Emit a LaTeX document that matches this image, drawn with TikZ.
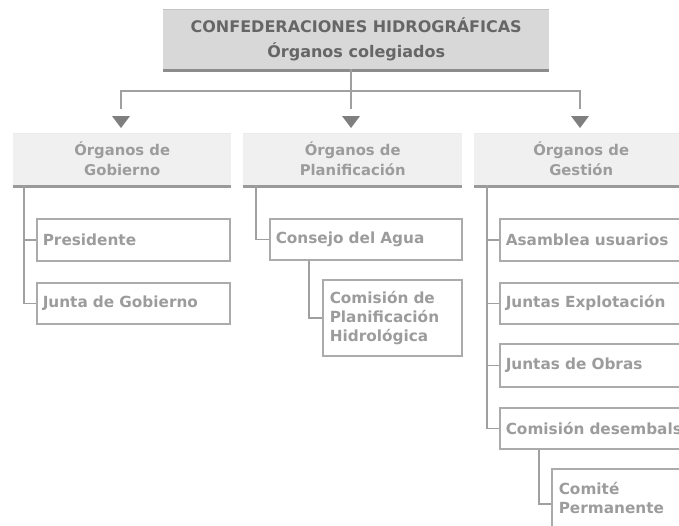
\documentclass[tikz,border=0pt]{standalone}
\usepackage{fontspec}
\setmainfont{DejaVu Sans}
\definecolor{topfill}{HTML}{D8D8D8}
\definecolor{topline}{HTML}{C4C4C4}
\definecolor{topbot}{HTML}{8C8C8C}
\definecolor{toptext}{HTML}{666666}
\definecolor{hdfill}{HTML}{F0F0F0}
\definecolor{hdbot}{HTML}{9A9A9A}
\definecolor{hdtext}{HTML}{9C9C9C}
\definecolor{boxline}{HTML}{ABABAB}
\definecolor{conncol}{HTML}{A0A0A0}
\definecolor{arrcol}{HTML}{7F7F7F}
\begin{document}
\begin{tikzpicture}[x=1pt,y=-1pt,
  topbox/.style={fill=topfill, minimum width=386pt, minimum height=60pt, inner sep=0pt,
     anchor=north west, font=\bfseries\fontsize{16}{25}\selectfont, text=toptext, align=center},
  hdbox/.style={fill=hdfill, minimum width=218pt, minimum height=52pt, inner sep=0pt,
     anchor=north west, font=\bfseries\fontsize{14.8}{20}\selectfont, text=hdtext, align=center},
  subbox/.style={draw=boxline, line width=1.5pt, fill=white, inner xsep=5pt, inner ysep=0pt,
     anchor=north west, font=\bfseries\fontsize{15.3}{19}\selectfont, text=hdtext, align=left},
  conn/.style={draw=conncol, line width=1.5pt},
]
\useasboundingbox (0,0) rectangle (679,525);
\clip (0,0) rectangle (679,525);

% top box
\node[topbox] (top) at (163,9) {CONFEDERACIONES HIDROGRÁFICAS\\Órganos colegiados};
\draw[topline, line width=1pt] (top.north west) -- (top.north east);
\draw[topbot, line width=3pt] ([yshift=-1.5pt]top.south west) -- ([yshift=-1.5pt]top.south east);

% headers
\node[hdbox] (hg) at (13,133) {Órganos de\\Gobierno};
\node[hdbox, minimum width=219pt] (hp) at (243,133) {Órganos de\\Planificación};
\node[hdbox, minimum width=214pt] (hs) at (474,133) {Órganos de\\Gestión};
\foreach \h in {hg,hp,hs}{
  \draw[hdbot, line width=3pt] ([yshift=-1.5pt]\h.south west) -- ([yshift=-1.5pt]\h.south east);
  \draw[black!8, line width=0.8pt] (\h.north west) -- (\h.north east);
}

% top connectors
\coordinate (hm) at (351,91);
\coordinate (h1) at (121,91);
\coordinate (h3) at (580,91);
\coordinate (e1) at (121,109);
\coordinate (e2) at (351,109);
\coordinate (e3) at (580,109);
\draw[conn] (top.south -| hm) -- (hm);
\draw[conn] (e1) -- (h1) -- (h3) -- (e3);
\draw[conn] (hm) -- (e2);
\foreach \x in {121,351,580}{
  \fill[arrcol] (\x-9,116) -- (\x+9,116) -- (\x,128) -- cycle;
}

% Gobierno
\node[subbox, minimum width=193pt, minimum height=42pt, text width=181pt] (pres) at (36,218) {Presidente};
\node[subbox, minimum width=193pt, minimum height=41pt, text width=181pt] (junta) at (36,282) {Junta de Gobierno};
\coordinate (g0) at (24,185);
\draw[conn] (g0) |- (pres.west);
\draw[conn] (g0) |- (junta.west);

% Planificacion
\node[subbox, minimum width=192pt, minimum height=41pt, text width=180pt] (cons) at (269,218) {Consejo del Agua};
\node[subbox, minimum width=139pt, minimum height=76pt, text width=125pt, inner xsep=7pt] (comp) at (322,279) {Comisión de\\Planificación\\Hidrológica};
\coordinate (p0) at (256,185);
\draw[conn] (p0) |- (cons.west);
\draw[conn] (cons.south -| 309,0) |- (comp.west);

% Gestion
\node[subbox, minimum width=260pt, minimum height=42pt, text width=248pt] (asam) at (499,218) {Asamblea usuarios};
\node[subbox, minimum width=260pt, minimum height=41pt, text width=248pt] (expl) at (499,282) {Juntas Explotación};
\node[subbox, minimum width=260pt, minimum height=43pt, text width=248pt] (obras) at (499,343) {Juntas de Obras};
\node[subbox, minimum width=260pt, minimum height=41pt, text width=248pt] (desem) at (499,407) {Comisión desembalse};
\node[subbox, minimum width=260pt, minimum height=58pt, text width=246pt, inner xsep=7pt] (comite) at (551,468) {Comité\\Permanente};
\coordinate (s0) at (487,185);
\draw[conn] (s0) |- (asam.west);
\draw[conn] (s0) |- (expl.west);
\draw[conn] (s0) |- (obras.west);
\draw[conn] (s0) |- (desem.west);
\draw[conn] (desem.south -| 539,0) |- ([yshift=-6pt]comite.west);
\end{tikzpicture}
\end{document}
